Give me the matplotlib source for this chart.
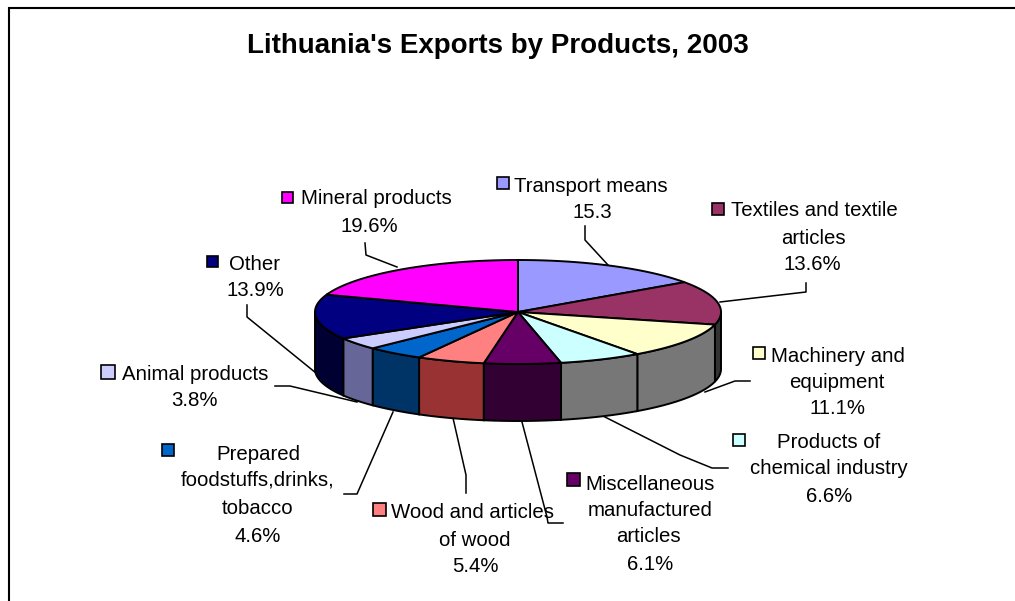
import numpy as np
import matplotlib
matplotlib.use("Agg")
import matplotlib.pyplot as plt
from matplotlib.patches import Rectangle

plt.rcParams["font.family"] = ["Liberation Sans", "DejaVu Sans"]

# Data, clockwise from 12 o'clock
products = ["Transport means", "Textiles and textile articles", "Machinery and equipment",
            "Products of chemical industry", "Miscellaneous manufactured articles",
            "Wood and articles of wood", "Prepared foodstuffs,drinks, tobacco",
            "Animal products", "Other", "Mineral products"]
shares = [15.3, 13.6, 11.1, 6.6, 6.1, 5.4, 4.6, 3.8, 13.9, 19.6]
top_colors = ["#9999FF", "#993366", "#FFFFCC", "#CCFFFF", "#660066",
              "#FF8080", "#0066CC", "#CCCCFF", "#000080", "#FF00FF"]
side_colors = ["#4D4D80", "#333333", "#777777", "#777777", "#330033",
               "#993333", "#003366", "#666699", "#000033", "#800080"]
label_lines = [["Transport means", "15.3"],
               ["Textiles and textile", "articles", "13.6%"],
               ["Machinery and", "equipment", "11.1%"],
               ["Products of", "chemical industry", "6.6%"],
               ["Miscellaneous", "manufactured", "articles", "6.1%"],
               ["Wood and articles", "of wood", "5.4%"],
               ["Prepared", "foodstuffs,drinks,", "tobacco", "4.6%"],
               ["Animal products", "3.8%"],
               ["Other", "13.9%"],
               ["Mineral products", "19.6%"]]

# Layout in pixels
cx, cy, rx, ry, depth = 518, 312, 203, 52, 57
line_x = [[591, 592], [814, 813, 812], [838, 837, 838], [829, 829, 829],
          [650, 650, 648, 650], [473, 475, 475], [258, 258, 258, 258],
          [195, 194], [255, 255], [376, 369]]
line_y = [[184, 210], [209, 236, 263], [354, 381, 407], [440, 467, 495],
          [482, 508, 535, 562], [511, 538, 564], [452, 478, 506, 534],
          [372, 399], [263, 289], [197, 224]]
keys = [(497, 177, 12), (712, 203, 12), (753, 347, 12), (733, 434, 12), (567, 473, 13),
        (373, 503, 13), (162, 444, 12), (101, 365, 14), (207, 256, 11), (282, 192, 11)]
leaders = [[(585, 226), (585, 240), (608, 265)],
           [(806, 283), (806, 292), (780, 295), (720, 302)],
           [(750, 381), (735, 381), (705, 392)],
           [(728, 468), (712, 468), (680, 455), (603, 416)],
           [(563, 523), (548, 523), (547, 517), (522, 422)],
           [(466, 493), (466, 475), (453, 418)],
           [(344, 494), (357, 494), (393, 412)],
           [(275, 386), (290, 386), (357, 402)],
           [(247, 305), (247, 317), (316, 373)],
           [(365, 243), (366, 255), (397, 267)]]

fig = plt.figure(figsize=(10.15, 6.01), dpi=100)
ax = fig.add_axes([0, 0, 1, 1])
ax.set_xlim(0, 1015)
ax.set_ylim(601, 0)
ax.axis("off")

# outer frame
ax.plot([9, 9, 1015], [601, 8, 8], color="black", lw=1.5, solid_joinstyle="miter")

for pts in leaders:
    xs, ys = zip(*pts)
    ax.plot(xs, ys, color="black", lw=1.1, zorder=1)

edges = np.cumsum([0] + shares) / sum(shares) * 2 * np.pi

# side wall, only the part of each slice facing the viewer
for a0, a1, c in zip(edges[:-1], edges[1:], side_colors):
    lo, hi = max(a0, np.pi / 2), min(a1, 3 * np.pi / 2)
    if lo >= hi:
        continue
    t = np.linspace(lo, hi, 60)
    x = cx + rx * np.sin(t)
    y = cy - ry * np.cos(t)
    ax.fill(np.r_[x, x[::-1]], np.r_[y, y[::-1] + depth], facecolor=c,
            edgecolor="black", lw=1.4, zorder=2)

# top surface
for a0, a1, c in zip(edges[:-1], edges[1:], top_colors):
    t = np.linspace(a0, a1, 80)
    x = np.r_[cx, cx + rx * np.sin(t)]
    y = np.r_[cy, cy - ry * np.cos(t)]
    ax.fill(x, y, facecolor=c, edgecolor="black", lw=1.4, zorder=3)

for lines, xs, ys, key, c in zip(label_lines, line_x, line_y, keys, top_colors):
    for s, x, y in zip(lines, xs, ys):
        ax.text(x, y + 2, s, ha="center", va="center", fontsize=14.7, color="black", zorder=5)
    ax.add_patch(Rectangle(key[:2], key[2], key[2], facecolor=c, edgecolor="black",
                           lw=1.2, zorder=5))

ax.text(498, 46, "Lithuania's Exports by Products, 2003", ha="center", va="center",
        fontsize=20, fontweight="bold", color="black")

fig.savefig("out.png", dpi=100)
